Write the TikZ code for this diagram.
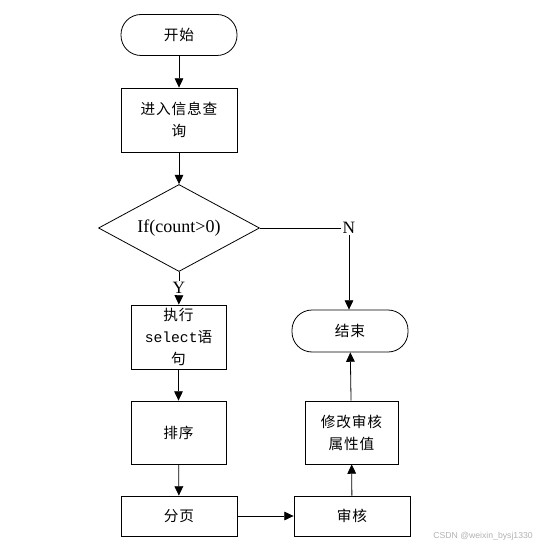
\documentclass[tikz,border=0pt]{standalone}
\usepackage{fontspec}
\setmainfont{Liberation Serif}
\setmonofont{Liberation Mono}
\newfontfamily\cjkfont[LetterSpace=6]{Noto Sans CJK SC}
\usetikzlibrary{arrows.meta, positioning, shapes.geometric}
\tikzset{
  stepbox/.style  = {draw, rectangle, line width=0.6pt, align=center, inner sep=2pt,
                     font=\cjkfont\fontsize{11}{16.5}\selectfont},
  termbox/.style  = {stepbox, rounded corners=15pt},
  decide/.style   = {draw, diamond, line width=0.6pt, inner sep=0pt, aspect=1.85,
                     minimum width=120.75pt, minimum height=65.25pt,
                     font=\fontsize{13.5}{15}\selectfont},
  flow/.style     = {-{Triangle[length=7pt, width=6.5pt]}, line width=0.6pt},
  link/.style     = {line width=0.6pt},
  yn/.style       = {inner sep=1pt, font=\fontsize{13}{15}\selectfont},
}

\begin{document}
\begin{tikzpicture}[x=0.75pt, y=-0.75pt]
\useasboundingbox (0,0) rectangle (538,549);

% ---------------- left column ----------------
\node[termbox, minimum width=87pt, minimum height=30.75pt] (start) at (179,35) {开始};
\node[stepbox, minimum width=87pt, minimum height=48pt] (query) at (179,120)
  {进入信息查\\询};
\node[decide] (cond) at (179,228) {If(count>0)};
\node[yn] (yes) at (179,288) {Y};
\node[stepbox, minimum width=71.25pt, minimum height=48pt] (exec) at (178.5,337)
  {执行\\{\ttfamily select}语\\句};
\node[stepbox, minimum width=71.25pt, minimum height=47.25pt] (sort) at (178.5,432.5) {排序};
\node[stepbox, minimum width=87pt, minimum height=30pt] (page) at (179,516) {分页};

% ---------------- right column ----------------
\node[yn] (no) at (349,228) {N};
\node[termbox, minimum width=87pt, minimum height=31.5pt] (stop) at (350,331) {结束};
\node[stepbox, minimum width=69.75pt, minimum height=47.25pt] (modify) at (351.5,432.5)
  {修改审核\\属性值};
\node[stepbox, minimum width=87pt, minimum height=30pt] (audit) at (352,516) {审核};

\coordinate (stopin) at (stop.north -| no);

% ---------------- connectors ----------------
\draw[flow] (start) -- (query);
\draw[flow] (query) -- (cond);
\draw[link] (cond.south) -- (yes);
\draw[flow] (yes) -- (exec);
\draw[flow] (exec) -- (sort);
\draw[flow] (sort) -- (page);
\draw[flow] (page) -- (audit);
\draw[flow] (audit) -- (modify);
\draw[flow] (modify) -- (stop);
\draw[link] (cond.east) -- (no);
\draw[flow] (no) -- (stopin);

% ---------------- watermark ----------------
\node[text=black!30, font=\fontspec{Liberation Sans}\fontsize{6.5}{8}\selectfont,
      anchor=east, inner sep=0pt] (mark) at (533,536) {CSDN @weixin\_bysj1330};

\end{tikzpicture}
\end{document}
